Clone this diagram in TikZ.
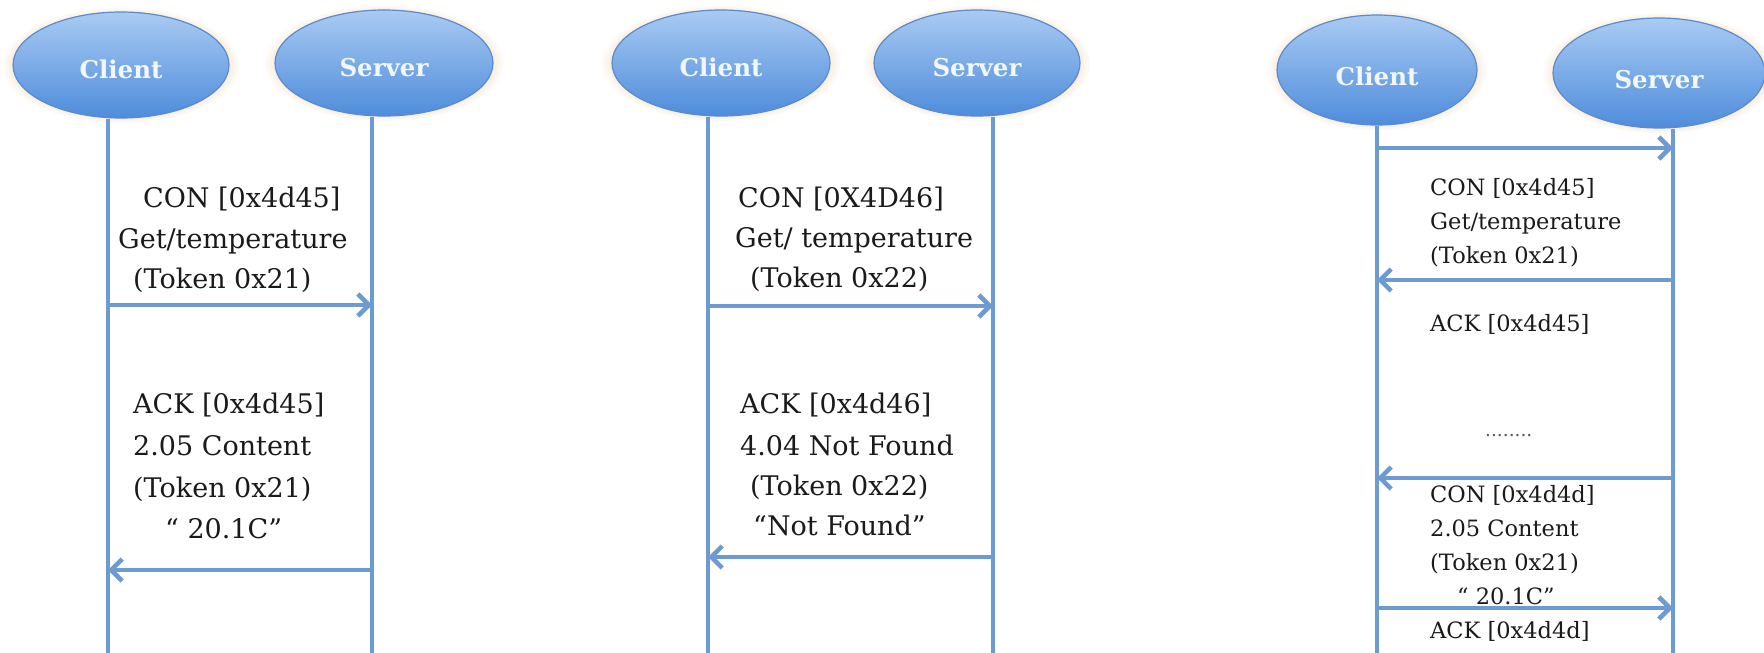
\documentclass[tikz,border=0pt]{standalone}
\usepackage{fontspec}
\setmainfont{DejaVu Serif}
\usetikzlibrary{arrows.meta,shapes.geometric,shadows}

\definecolor{ellTop}{HTML}{A9CBF3}
\definecolor{ellBot}{HTML}{4E8CDB}
\definecolor{ellEdge}{HTML}{5C8ACB}
\definecolor{lifeblue}{HTML}{6D9AD0}
\definecolor{halo}{HTML}{F5E4CC}
\definecolor{inktext}{HTML}{1A1A1A}
\definecolor{actortext}{HTML}{F2F7FD}

\begin{document}
\begin{tikzpicture}[x=1pt,y=-1pt,
  actor/.style={ellipse, draw=ellEdge, line width=1.2pt,
    top color=ellTop, bottom color=ellBot, inner sep=0pt,
    circular glow={fill=halo, shadow scale=1.1},
    text=actortext, font=\fontsize{24.5}{24.5}\selectfont\bfseries,
    text depth=0pt},
  lifeline/.style={draw=lifeblue, line width=4.5pt},
  msg/.style={draw=lifeblue, line width=4.5pt,
    -{Straight Barb[length=11pt,width=22pt]}},
  big/.style={anchor=base west, inner sep=0pt, text=inktext,
    font=\fontsize{27}{27}\selectfont},
  small/.style={anchor=base west, inner sep=0pt, text=inktext,
    font=\fontsize{22.5}{22.5}\selectfont},
  dots/.style={anchor=base west, inner sep=0pt, text=black!65,
    font=\fontsize{18.5}{18.5}\selectfont},
]
\fill[white] (0,0) rectangle (1764,653);
\useasboundingbox (0,0) rectangle (1764,653);

% ---------- exchange 1: piggybacked response ----------
\node[actor, minimum width=216pt, minimum height=106pt, text height=26pt] (c1) at (121,65) {Client};
\node[actor, minimum width=218pt, minimum height=106pt, text height=26pt] (s1) at (384,63) {Server};
\coordinate (c1b) at (108,653);
\coordinate (s1b) at (372,653);
\draw[lifeline] (c1.south -| c1b) -- (c1b);
\draw[lifeline] (s1.south -| s1b) -- (s1b);
\coordinate (m1a) at (108,305);
\coordinate (m1b) at (372,305);
\coordinate (m2a) at (372,570);
\coordinate (m2b) at (108,570);
\draw[msg] (m1a) -- (m1b);
\draw[msg] (m2a) -- (m2b);

\node[big] (p1c1) at (143,207) {CON [0x4d45]};
\node[big] (p1c2) at (118,248) {Get/temperature};
\node[big] (p1c3) at (133,288) {(Token 0x21)};
\node[big] (p1a1) at (133,413) {ACK [0x4d45]};
\node[big] (p1a2) at (133,455) {2.05 Content};
\node[big] (p1a3) at (133,497) {(Token 0x21)};
\node[big] (p1a4) at (165,538) {“ 20.1C"};

% ---------- exchange 2: resource not found ----------
\node[actor, minimum width=218pt, minimum height=106pt, text height=26pt] (c2) at (721,63) {Client};
\node[actor, minimum width=206pt, minimum height=106pt, text height=26pt] (s2) at (977,63) {Server};
\coordinate (c2b) at (708,653);
\coordinate (s2b) at (993,653);
\draw[lifeline] (c2.south -| c2b) -- (c2b);
\draw[lifeline] (s2.south -| s2b) -- (s2b);
\coordinate (m3a) at (708,306);
\coordinate (m3b) at (993,306);
\coordinate (m4a) at (993,557);
\coordinate (m4b) at (708,557);
\draw[msg] (m3a) -- (m3b);
\draw[msg] (m4a) -- (m4b);

\node[big] (p2c1) at (738,207) {CON [0X4D46]};
\node[big] (p2c2) at (735,247) {Get/ temperature};
\node[big] (p2c3) at (750,287) {(Token 0x22)};
\node[big] (p2a1) at (740,413) {ACK [0x4d46]};
\node[big] (p2a2) at (740,455) {4.04 Not Found};
\node[big] (p2a3) at (750,495) {(Token 0x22)};
\node[big] (p2a4) at (753,535) {“Not Found”};

% ---------- exchange 3: separate response ----------
\node[actor, minimum width=200pt, minimum height=110pt, text height=30pt] (c3) at (1377,70) {Client};
\node[actor, minimum width=212pt, minimum height=110pt, text height=30pt] (s3) at (1659,73) {Server};
\coordinate (c3b) at (1377,653);
\coordinate (s3b) at (1673,653);
\draw[lifeline] (c3.south -| c3b) -- (c3b);
\draw[lifeline] (s3.south -| s3b) -- (s3b);
\coordinate (m5a) at (1377,148);
\coordinate (m5b) at (1673,148);
\coordinate (m6a) at (1673,280);
\coordinate (m6b) at (1377,280);
\coordinate (m7a) at (1673,478);
\coordinate (m7b) at (1377,478);
\coordinate (m8a) at (1377,608);
\coordinate (m8b) at (1673,608);
\draw[msg] (m5a) -- (m5b);
\draw[msg] (m6a) -- (m6b);
\draw[msg] (m7a) -- (m7b);
\draw[msg] (m8a) -- (m8b);

\node[small] (p3c1) at (1430,195) {CON [0x4d45]};
\node[small] (p3c2) at (1430,229) {Get/temperature};
\node[small] (p3c3) at (1430,263) {(Token 0x21)};
\node[small] (p3a1) at (1430,331) {ACK [0x4d45]};
\node[dots]  (p3gap) at (1485,436) {........};
\node[small] (p3r1) at (1430,502) {CON [0x4d4d]};
\node[small] (p3r2) at (1430,536) {2.05 Content};
\node[small] (p3r3) at (1430,570) {(Token 0x21)};
\node[small] (p3r4) at (1457,604) {“ 20.1C”};
\node[small] (p3k1) at (1430,638) {ACK [0x4d4d]};
\end{tikzpicture}
\end{document}
